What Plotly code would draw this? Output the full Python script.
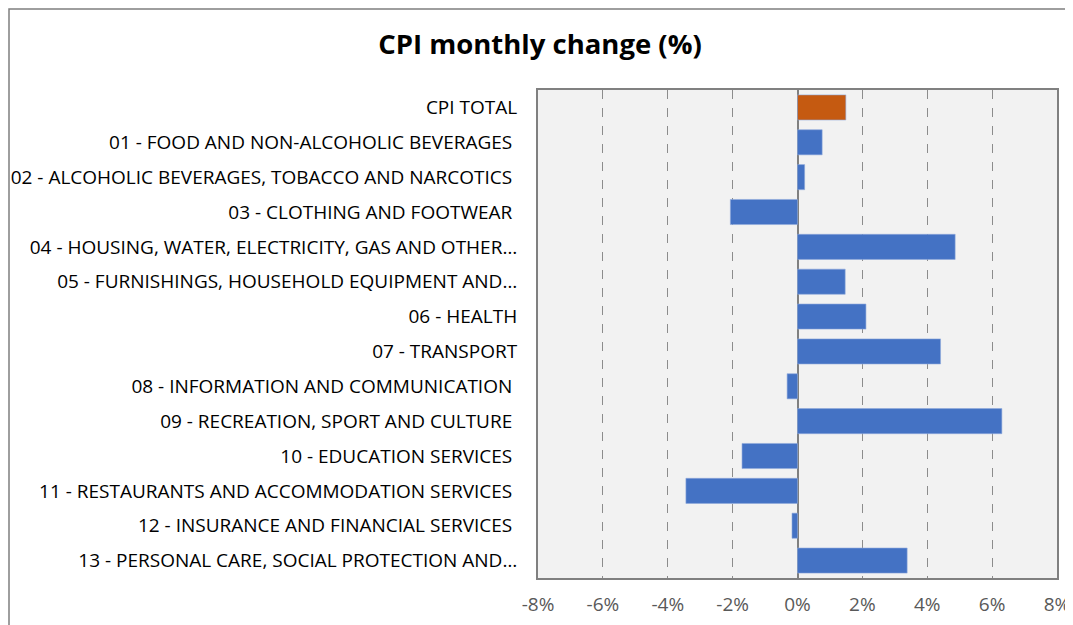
import plotly.graph_objects as go

categories = [
    "CPI TOTAL",
    "01 - FOOD AND NON-ALCOHOLIC BEVERAGES ",
    "02 - ALCOHOLIC BEVERAGES, TOBACCO AND NARCOTICS ",
    "03 - CLOTHING AND FOOTWEAR ",
    "04 - HOUSING, WATER, ELECTRICITY, GAS AND OTHER…",
    "05 - FURNISHINGS, HOUSEHOLD EQUIPMENT AND…",
    "06 - HEALTH",
    "07 - TRANSPORT",
    "08 - INFORMATION AND COMMUNICATION ",
    "09 - RECREATION, SPORT AND CULTURE ",
    "10 - EDUCATION SERVICES ",
    "11 - RESTAURANTS AND ACCOMMODATION SERVICES ",
    "12 - INSURANCE AND FINANCIAL SERVICES ",
    "13 - PERSONAL CARE, SOCIAL PROTECTION AND…",
]
values = [1.49, 0.76, 0.22, -2.07, 4.86, 1.47, 2.11, 4.41, -0.32, 6.30, -1.71, -3.44, -0.17, 3.38]
colors = ["#C55A11"] + ["#4472C4"] * 13
tick_vals = [-8, -6, -4, -2, 0, 2, 4, 6, 8]
tick_text = ["-8%", "-6%", "-4%", "-2%", "0%", "2%", "4%", "6%", "8%"]

FONT = "Open Sans, sans-serif"

fig = go.Figure(go.Bar(
    x=values, y=categories, orientation="h",
    marker=dict(color=colors, line=dict(color="#8FAADC", width=0.6)),
    width=0.72,
))

# page body has an 8px offset
OFF = 8
W, H = 1073 - OFF, 625 - OFF
L = 538 - OFF
T = 90 - OFF
R = W - (1057 - OFF)
B = H - (578 - OFF)
pw = W - L - R
ph = H - T - B

fig.update_layout(
    width=W, height=H,
    margin=dict(l=L, r=R, t=T, b=B, pad=0, autoexpand=False),
    paper_bgcolor="white",
    plot_bgcolor="#F2F2F2",
    showlegend=False,
    font=dict(family=FONT, size=17, color="#000000"),
    title=dict(text="<b>CPI monthly change (%)</b>", x=(540 - OFF) / W, xanchor="center",
               y=1 - (44 - OFF) / H, yanchor="middle",
               font=dict(family=FONT, size=27.5, color="#000000")),
    xaxis=dict(range=[-8, 8], tickvals=tick_vals, ticktext=tick_text, automargin=False,
               showgrid=True, gridcolor="#8C8C8C", griddash="dash", gridwidth=1.3,
               zeroline=True, zerolinecolor="#808080", zerolinewidth=1.5,
               showline=True, linecolor="#808080", linewidth=2, mirror=True,
               ticks="", tickfont=dict(size=19, color="#595959"), ticklabelstandoff=8,
               fixedrange=True),
    yaxis=dict(autorange="reversed", showgrid=False, zeroline=False, automargin=False,
               showline=True, linecolor="#808080", linewidth=2, mirror=True,
               ticks="", tickfont=dict(size=19, color="#000000"), ticklabelstandoff=15,
               fixedrange=True),
    shapes=[dict(type="rect", xref="paper", yref="paper",
                 x0=(1 - L) / pw, x1=(W + 40 - L) / pw,
                 y0=-(H + 40 - (H - B)) / ph, y1=1 + (T - 1) / ph,
                 line=dict(color="#7F7F7F", width=1.5), layer="below")],
)

fig.write_html("out.html")
